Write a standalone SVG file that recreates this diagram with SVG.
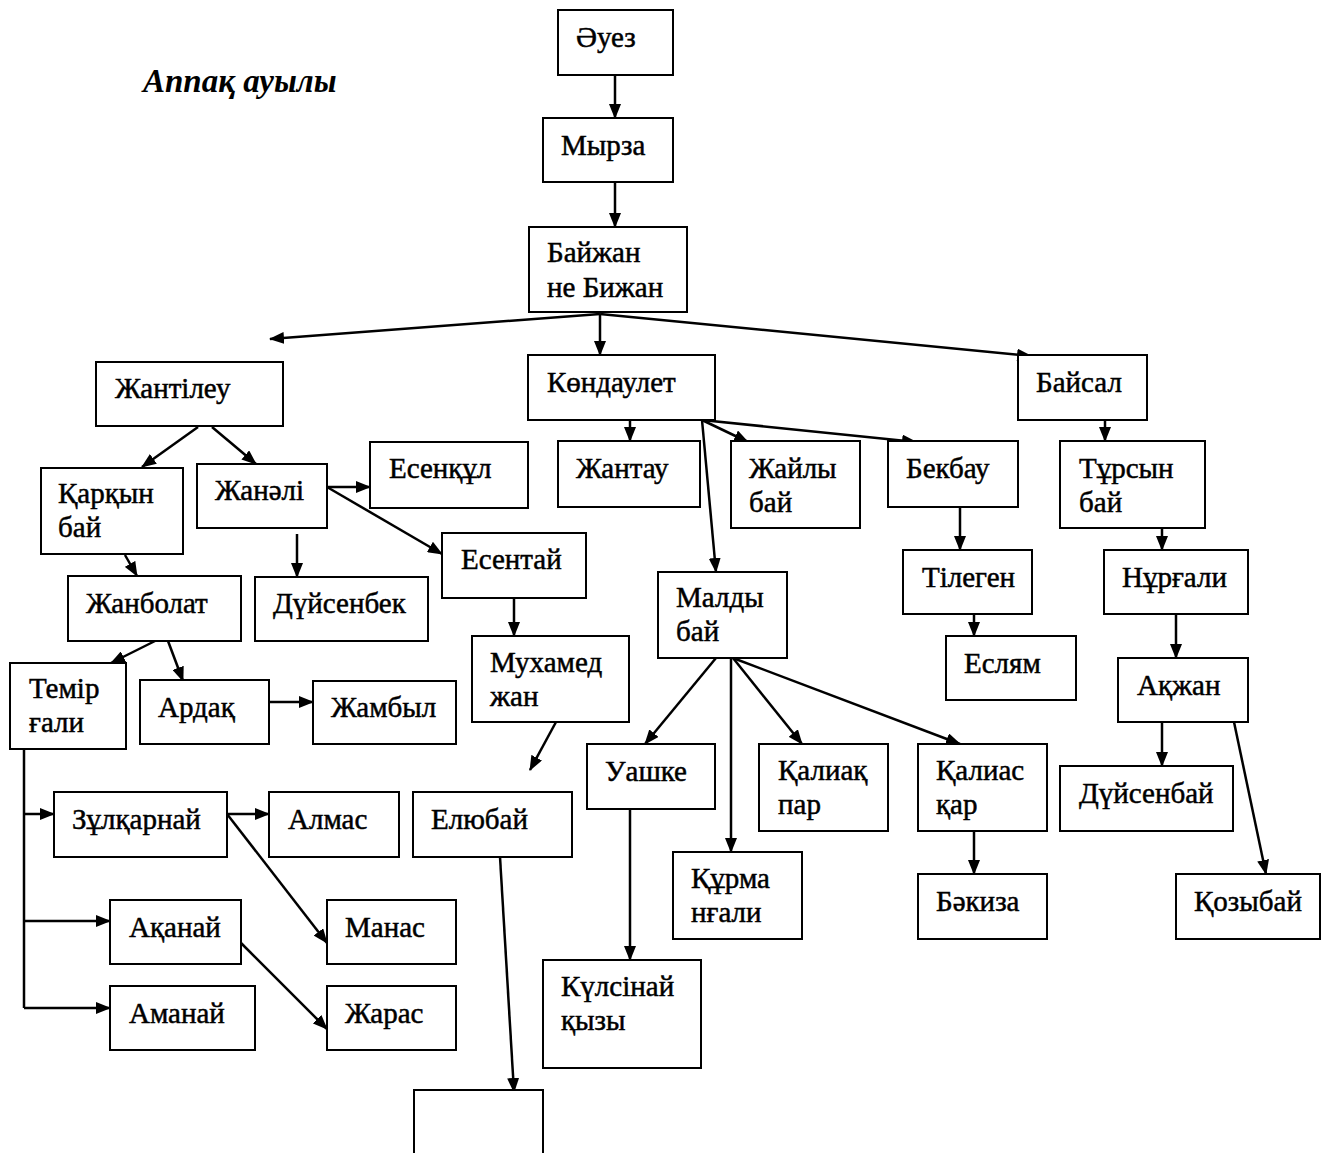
<svg xmlns="http://www.w3.org/2000/svg" width="1329" height="1153" viewBox="0 0 1329 1153" font-family="'Liberation Serif', 'Times New Roman', serif">
<defs>
<marker id="ah" markerUnits="userSpaceOnUse" markerWidth="15" markerHeight="12" refX="14" refY="6" orient="auto">
<path d="M0,0 L15,6 L0,12 z" fill="#000"/>
</marker>
<style>
rect{fill:#fff;stroke:#000;stroke-width:2}
text{font-family:'Liberation Serif','Times New Roman',serif;font-size:29px;fill:#000;stroke:#000;stroke-width:0.5}
.t{font-weight:bold;font-style:italic;font-size:33px;stroke-width:0}
#edges line,#edges path{stroke:#000;stroke-width:2.5;fill:none}
.a{marker-end:url(#ah)}
</style>
</defs>
<rect width="1329" height="1153" style="fill:#fff;stroke:none"/>
<text class="t" x="143" y="92">Аппақ ауылы</text>

<g id="edges">
<line class="a" x1="615" y1="75" x2="615" y2="118"/>
<line class="a" x1="615" y1="182" x2="615" y2="227"/>
<line class="a" x1="600" y1="314" x2="270" y2="339"/>
<line class="a" x1="600" y1="314" x2="600" y2="355"/>
<line class="a" x1="600" y1="314" x2="1031" y2="356"/>
<line class="a" x1="198" y1="427" x2="142" y2="467"/>
<line class="a" x1="212" y1="427" x2="256" y2="464"/>
<line class="a" x1="327" y1="487" x2="370" y2="487"/>
<line class="a" x1="327" y1="487" x2="442" y2="554"/>
<line class="a" x1="297" y1="534" x2="297" y2="577"/>
<line class="a" x1="125" y1="555" x2="137" y2="576"/>
<line class="a" x1="155" y1="641" x2="111" y2="663"/>
<line class="a" x1="168" y1="641" x2="183" y2="681"/>
<line class="a" x1="269" y1="702" x2="313" y2="702"/>
<line class="a" x1="514" y1="594" x2="514" y2="636"/>
<line class="a" x1="556" y1="722" x2="530" y2="770"/>
<line class="a" x1="500" y1="857" x2="514" y2="1092"/>
<path d="M24,749 L24,1008"/>
<line class="a" x1="24" y1="814" x2="54" y2="814"/>
<line class="a" x1="24" y1="921" x2="110" y2="921"/>
<line class="a" x1="24" y1="1008" x2="110" y2="1008"/>
<line class="a" x1="227" y1="814" x2="269" y2="814"/>
<line class="a" x1="227" y1="814" x2="327" y2="943"/>
<line class="a" x1="241" y1="943" x2="327" y2="1029"/>
<line class="a" x1="630" y1="420" x2="630" y2="441"/>
<line class="a" x1="702" y1="420" x2="748" y2="442"/>
<line class="a" x1="702" y1="420" x2="916" y2="442"/>
<line class="a" x1="702" y1="420" x2="716" y2="572"/>
<line class="a" x1="1105" y1="420" x2="1105" y2="441"/>
<line class="a" x1="960" y1="507" x2="960" y2="550"/>
<line class="a" x1="974" y1="614" x2="974" y2="636"/>
<line class="a" x1="1162" y1="528" x2="1162" y2="550"/>
<line class="a" x1="1176" y1="614" x2="1176" y2="658"/>
<line class="a" x1="1162" y1="722" x2="1162" y2="766"/>
<line class="a" x1="1234" y1="722" x2="1266" y2="874"/>
<line class="a" x1="716" y1="658" x2="645" y2="744"/>
<line class="a" x1="731" y1="658" x2="731" y2="852"/>
<line class="a" x1="733" y1="658" x2="802" y2="744"/>
<line class="a" x1="733" y1="658" x2="960" y2="744"/>
<line class="a" x1="974" y1="831" x2="974" y2="874"/>
<line class="a" x1="630" y1="809" x2="630" y2="960"/>
</g>

<g id="n-auez"><rect x="558" y="10" width="115" height="65"/><text x="576" y="47">Әуез</text></g>
<g id="n-myrza"><rect x="543" y="118" width="130" height="64"/><text x="561" y="155">Мырза</text></g>
<g id="n-baizhan"><rect x="529" y="227" width="158" height="85"/><text x="547" y="262">Байжан</text><text x="547" y="297">не Бижан</text></g>
<g id="n-zhantileu"><rect x="96" y="362" width="187" height="64"/><text x="115" y="398">Жантілеу</text></g>
<g id="n-kondaulet"><rect x="528" y="355" width="187" height="65"/><text x="547" y="392">Көндаулет</text></g>
<g id="n-baisal"><rect x="1018" y="355" width="129" height="65"/><text x="1036" y="392">Байсал</text></g>
<g id="n-qarqyn"><rect x="41" y="468" width="142" height="86"/><text x="58" y="503">Қарқын</text><text x="58" y="537">бай</text></g>
<g id="n-zhanali"><rect x="197" y="464" width="130" height="64"/><text x="215" y="500">Жанәлі</text></g>
<g id="n-esenqul"><rect x="370" y="442" width="158" height="66"/><text x="389" y="478">Есенқұл</text></g>
<g id="n-esentai"><rect x="442" y="533" width="144" height="65"/><text x="461" y="569">Есентай</text></g>
<g id="n-duisenbek"><rect x="255" y="577" width="173" height="64"/><text x="273" y="613">Дүйсенбек</text></g>
<g id="n-zhanbolat"><rect x="68" y="576" width="173" height="65"/><text x="86" y="613">Жанболат</text></g>
<g id="n-temir"><rect x="10" y="663" width="116" height="86"/><text x="29" y="698">Темір</text><text x="29" y="732">ғали</text></g>
<g id="n-ardaq"><rect x="140" y="680" width="129" height="64"/><text x="158" y="717">Ардақ</text></g>
<g id="n-zhambyl"><rect x="313" y="681" width="143" height="63"/><text x="331" y="717">Жамбыл</text></g>
<g id="n-mukhamed"><rect x="472" y="636" width="157" height="86"/><text x="490" y="672">Мухамед</text><text x="490" y="706">жан</text></g>
<g id="n-eliubai"><rect x="413" y="792" width="159" height="65"/><text x="431" y="829">Елюбай</text></g>
<g id="n-empty"><rect x="414" y="1090" width="129" height="70"/></g>
<g id="n-zulqarnai"><rect x="54" y="792" width="173" height="65"/><text x="72" y="829">Зұлқарнай</text></g>
<g id="n-almas"><rect x="269" y="792" width="130" height="65"/><text x="288" y="829">Алмас</text></g>
<g id="n-manas"><rect x="327" y="900" width="129" height="64"/><text x="345" y="937">Манас</text></g>
<g id="n-aqanai"><rect x="110" y="900" width="131" height="64"/><text x="129" y="937">Ақанай</text></g>
<g id="n-zharas"><rect x="327" y="986" width="129" height="64"/><text x="345" y="1023">Жарас</text></g>
<g id="n-amanai"><rect x="110" y="986" width="145" height="64"/><text x="129" y="1023">Аманай</text></g>
<g id="n-zhantau"><rect x="558" y="441" width="142" height="66"/><text x="576" y="478">Жантау</text></g>
<g id="n-zhaily"><rect x="731" y="441" width="129" height="87"/><text x="749" y="478">Жайлы</text><text x="749" y="512">бай</text></g>
<g id="n-bekbau"><rect x="888" y="441" width="130" height="66"/><text x="906" y="478">Бекбау</text></g>
<g id="n-tursyn"><rect x="1060" y="441" width="145" height="87"/><text x="1079" y="478">Тұрсын</text><text x="1079" y="512">бай</text></g>
<g id="n-maldy"><rect x="658" y="572" width="129" height="86"/><text x="676" y="607">Малды</text><text x="676" y="641">бай</text></g>
<g id="n-tilegen"><rect x="903" y="550" width="129" height="64"/><text x="922" y="587">Тілеген</text></g>
<g id="n-esliam"><rect x="946" y="636" width="130" height="64"/><text x="964" y="673">Еслям</text></g>
<g id="n-nurgali"><rect x="1104" y="550" width="144" height="64"/><text x="1122" y="587">Нұрғали</text></g>
<g id="n-aqzhan"><rect x="1118" y="658" width="130" height="64"/><text x="1137" y="695">Ақжан</text></g>
<g id="n-duisenbai"><rect x="1060" y="766" width="173" height="65"/><text x="1079" y="803">Дүйсенбай</text></g>
<g id="n-qozybai"><rect x="1176" y="874" width="144" height="65"/><text x="1194" y="911">Қозыбай</text></g>
<g id="n-uashke"><rect x="587" y="744" width="128" height="65"/><text x="605" y="781">Уашке</text></g>
<g id="n-qurma"><rect x="673" y="852" width="129" height="87"/><text x="691" y="888">Құрма</text><text x="691" y="922">нғали</text></g>
<g id="n-qaliaqpar"><rect x="759" y="744" width="129" height="87"/><text x="778" y="780">Қалиақ</text><text x="778" y="814">пар</text></g>
<g id="n-qaliasqar"><rect x="918" y="744" width="129" height="87"/><text x="936" y="780">Қалиас</text><text x="936" y="814">қар</text></g>
<g id="n-bakiza"><rect x="918" y="874" width="129" height="65"/><text x="936" y="911">Бәкиза</text></g>
<g id="n-kulsinai"><rect x="543" y="960" width="158" height="108"/><text x="561" y="996">Күлсінай</text><text x="561" y="1030">қызы</text></g>
</svg>
